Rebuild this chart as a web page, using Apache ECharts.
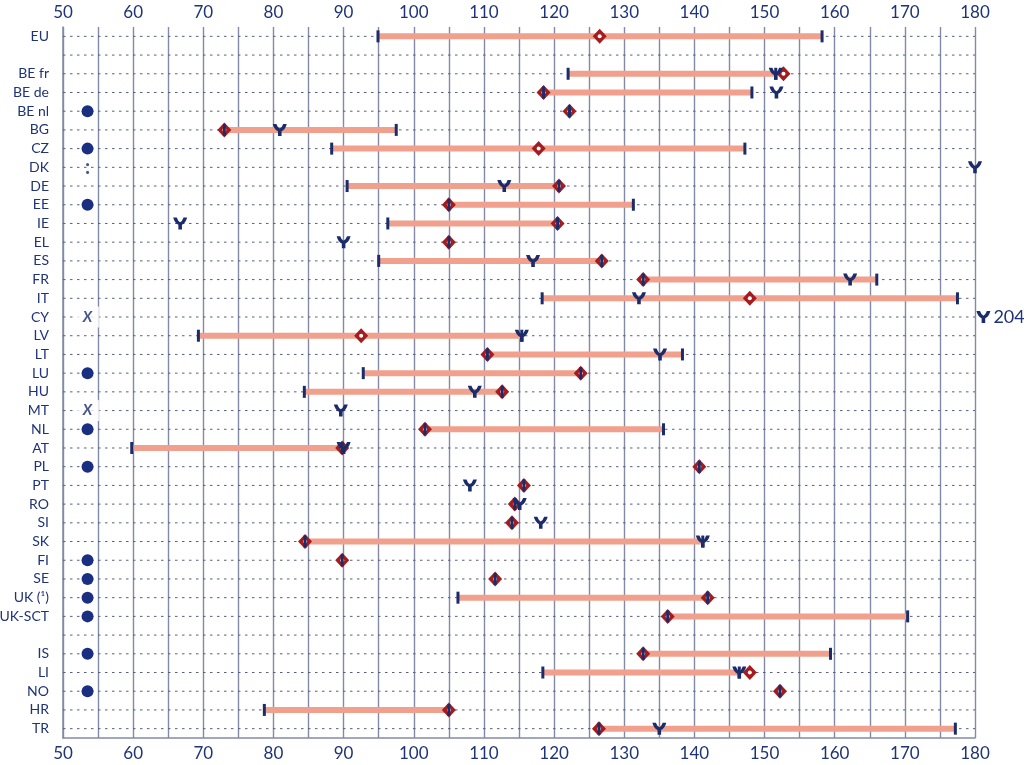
<!DOCTYPE html>
<html>
<head>
<meta charset="utf-8">
<script src="https://cdn.jsdelivr.net/npm/echarts@6/dist/echarts.min.js"></script>
<style>html,body{margin:0;padding:0;background:#fff}#c{width:1024px;height:765px}</style>
</head>
<body>
<div id="c"></div>
<script>
// ---- data ----
const categories = ['EU',' ','BE fr','BE de','BE nl','BG','CZ','DK','DE','EE','IE','EL','ES','FR','IT','CY','LV','LT','LU','HU','MT','NL','AT','PL','PT','RO','SI','SK','FI','SE','UK (¹)','UK-SCT','  ','IS','LI','NO','HR','TR'];
// range minimum (left tick) and maximum (right tick)
const rangeMin = [94.9,null,122.0,118.5,122.2,73.0,88.3,null,90.5,105.0,96.3,105.0,95.0,132.7,118.3,null,69.3,110.5,92.8,84.4,null,101.6,59.8,140.7,115.7,114.4,114.0,84.5,89.8,111.6,106.3,136.2,null,132.7,118.4,152.2,78.7,126.4];
const rangeMax = [158.2,null,151.6,148.2,122.2,97.5,147.2,null,120.7,131.3,120.5,105.0,126.8,166.0,177.5,null,115.4,138.3,123.8,112.6,null,135.6,89.8,140.7,115.7,114.4,114.0,141.2,89.8,111.6,141.9,170.4,null,159.4,146.4,152.2,105.0,177.2];
// red diamond value
const diamondVals = [126.5,null,152.7,118.5,122.2,73.0,117.8,null,120.7,105.0,120.5,105.0,126.8,132.7,147.9,null,92.5,110.5,123.8,112.6,null,101.6,89.8,140.7,115.7,114.4,114.0,84.5,89.8,111.6,141.9,136.2,null,132.7,147.9,152.2,105.0,126.4];
// navy "Y" marker value
const yMarkVals = [null,null,151.6,151.7,null,80.9,null,180.0,112.9,null,66.7,90.0,117.0,162.2,132.1,204,115.4,135.1,null,108.7,89.6,null,90.0,null,108.0,115.1,118.1,141.2,null,null,null,null,null,null,146.4,null,null,135.0];
// left-column flags: 'dot', 'x', 'colon' or null
const leftFlags = [null,null,null,null,'dot',null,'dot','colon',null,'dot',null,null,null,null,null,'x',null,null,'dot',null,'x','dot',null,'dot',null,null,null,null,'dot','dot','dot','dot',null,'dot',null,'dot',null,null];
const xTicks = {min:50, max:180, step:10};
const flagX = 53.5;
const overflowPad = 1.2;

// ---- styles ----
const NAVY = '#1b2c6a';
const TEXT = '#1f3478';
const PINK = '#f0a08c';
const RED = '#a51b1e';
const GRID = '#828aa6';
const FONT = 'Lato';

const rangeData = [], diamondData = [], tickData = [], yData = [], dotData = [], textFlagData = [];
categories.forEach((c, i) => {
  if (rangeMin[i] != null) {
    rangeData.push([rangeMin[i], rangeMax[i], i]);
    tickData.push([rangeMin[i], i]);
    if (rangeMax[i] !== rangeMin[i]) tickData.push([rangeMax[i], i]);
  }
  if (diamondVals[i] != null) diamondData.push([diamondVals[i], i]);
  if (yMarkVals[i] != null) {
    const v = yMarkVals[i];
    if (v > xTicks.max) yData.push({value:[xTicks.max + overflowPad, i], label:{show:true, formatter:String(v)}});
    else yData.push({value:[v, i]});
  }
  if (leftFlags[i] === 'dot') dotData.push([flagX, i]);
  else if (leftFlags[i] === 'x') textFlagData.push({value:[flagX, i], label:{formatter:'X', fontSize:15, fontFamily:FONT, fontWeight:'bold', fontStyle:'italic', backgroundColor:'#fff', padding:[3,7,3,7]}});
  else if (leftFlags[i] === 'colon') textFlagData.push({value:[flagX, i], label:{formatter:':', fontSize:20, fontWeight:'bold', fontFamily:FONT}});
});
const rowData = categories.map((c, i) => [xTicks.min, xTicks.max, i]);

const ySym = 'path://M0,0 L3.6,0 Q5,4 7,4.7 Q9,4 10.4,0 L14,0 Q12.4,5.8 8.8,7.3 L8.8,12 L5.2,12 L5.2,7.3 Q1.6,5.8 0,0 Z';

const chart = echarts.init(document.getElementById('c'), null, {renderer:'canvas'});
chart.setOption({
  animation:false,
  backgroundColor:'#fff',
  grid:{left:63, right:49, top:27, bottom:27, containLabel:false, outerBoundsMode:'none'},
  xAxis:[
    {type:'value', position:'bottom', min:xTicks.min, max:xTicks.max, interval:5,
     axisLine:{show:true, lineStyle:{color:GRID, width:1.5}}, axisTick:{show:false},
     axisLabel:{color:TEXT, fontSize:17, fontFamily:FONT, margin:7,
       formatter:v => (v % xTicks.step === 0 ? String(v) : '')},
     splitLine:{show:true, lineStyle:{color:GRID, width:1.4}}},
    {type:'value', position:'top', min:xTicks.min, max:xTicks.max, interval:5,
     axisLine:{show:false}, axisTick:{show:false},
     axisLabel:{color:TEXT, fontSize:17, fontFamily:FONT, margin:6,
       formatter:v => (v % xTicks.step === 0 ? String(v) : '')},
     splitLine:{show:false}}
  ],
  yAxis:{type:'category', inverse:true, data:categories,
    axisLine:{show:true, lineStyle:{color:GRID, width:1.5}}, axisTick:{show:false},
    axisLabel:{color:TEXT, fontSize:14, fontFamily:FONT, margin:14},
    splitLine:{show:false}},
  series:[
    {type:'custom', z:1, silent:true,
     renderItem:(params, api) => {
       const y = api.value(2);
       const p1 = api.coord([api.value(0), y]);
       const p2 = api.coord([api.value(1), y]);
       return {type:'line', shape:{x1:p1[0], y1:p1[1], x2:p2[0], y2:p2[1]},
         style:{stroke:'#56607e', lineWidth:1, lineDash:[2.5,4.5]}};
     },
     encode:{x:[0,1], y:2}, data:rowData},
    {type:'custom', z:2, silent:true,
     renderItem:(params, api) => {
       const y = api.value(2);
       const p1 = api.coord([api.value(0), y]);
       const p2 = api.coord([api.value(1), y]);
       return {type:'line', shape:{x1:p1[0], y1:p1[1], x2:p2[0], y2:p2[1]}, style:{stroke:PINK, lineWidth:6}};
     },
     encode:{x:[0,1], y:2}, data:rangeData},
    {type:'scatter', z:3, symbol:'diamond', symbolSize:[14,15], itemStyle:{color:RED, opacity:1}, data:diamondData},
    {type:'scatter', z:4, symbol:'circle', symbolSize:4, itemStyle:{color:'#fff', opacity:1}, data:diamondData},
    {type:'scatter', z:5, symbol:'rect', symbolSize:[3,12], itemStyle:{color:NAVY, opacity:1}, data:tickData},
    {type:'scatter', z:6, symbol:ySym, symbolSize:[14,12], clip:false, itemStyle:{color:NAVY, opacity:1},
     label:{show:false, position:'right', distance:3, color:TEXT, fontSize:18, fontFamily:FONT},
     data:yData},
    {type:'scatter', z:6, symbol:'circle', symbolSize:12, itemStyle:{color:'#1a2f82', opacity:1}, data:dotData},
    {type:'scatter', z:7, symbolSize:1, itemStyle:{color:'rgba(0,0,0,0)'},
     label:{show:true, position:'inside', color:NAVY},
     data:textFlagData}
  ]
});
</script>
</body>
</html>
